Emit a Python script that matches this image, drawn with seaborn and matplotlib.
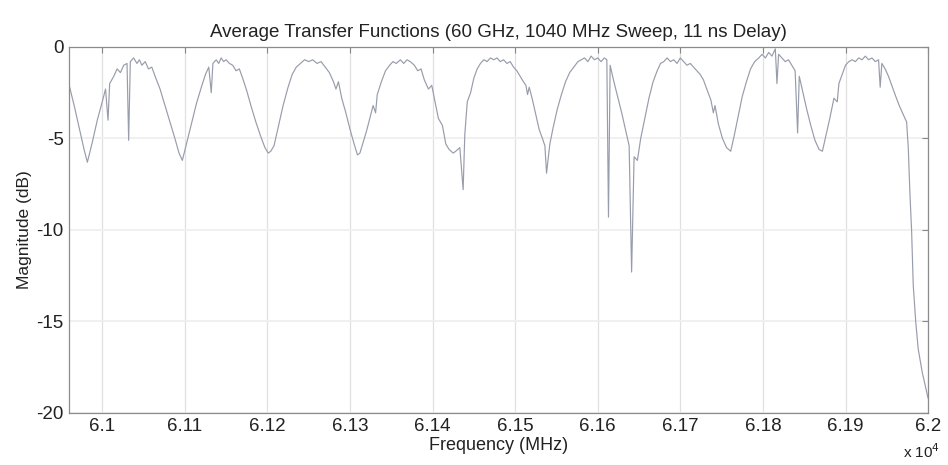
import numpy as np
import pandas as pd
import matplotlib
matplotlib.use("Agg")
import matplotlib.pyplot as plt
import seaborn as sns

# -----------------------------
# Data (frequency in MHz, magnitude in dB)
# -----------------------------
freq_mhz = [
    60960, 60966, 60972, 60978, 60982,
    # lobe 1
    60988, 60994, 61000, 61004, 61007, 61009, 61014, 61018, 61022, 61026, 61030, 61032,
    61034, 61038, 61042, 61045, 61048, 61052, 61056, 61060, 61064, 61070, 61076, 61082,
    61088, 61093, 61097,
    # lobe 2
    61102, 61108, 61114, 61120, 61125, 61129, 61132, 61134, 61138, 61141, 61144, 61147,
    61150, 61154, 61158, 61162, 61166, 61170, 61175, 61180, 61186, 61192, 61197, 61201, 61204,
    # lobe 3
    61208, 61213, 61219, 61225, 61230, 61235, 61240, 61245, 61250, 61255, 61260, 61265,
    61270, 61275, 61280, 61283, 61286, 61290, 61295, 61300, 61305, 61309, 61312,
    # lobe 4
    61316, 61320, 61324, 61328, 61331, 61333, 61338, 61343, 61348, 61352, 61356, 61361,
    61365, 61369, 61373, 61378, 61382, 61386, 61390, 61395, 61399, 61403, 61407, 61412,
    61416, 61420, 61425, 61428, 61433, 61437,
    # lobe 5
    61439, 61442, 61446, 61450, 61454, 61458, 61462, 61466, 61470, 61474, 61478, 61482,
    61486, 61490, 61494, 61498, 61502, 61506, 61510, 61513, 61515, 61517, 61521, 61525,
    61529, 61533, 61536, 61538,
    # lobe 6
    61542, 61546, 61551, 61556, 61561, 61566, 61571, 61576, 61580, 61584, 61588, 61592,
    61596, 61600, 61604, 61608, 61611, 61613, 61615, 61619, 61624, 61629, 61634, 61638,
    61641, 61644, 61648,
    # lobe 7
    61652, 61657, 61662, 61667, 61672, 61676, 61680, 61684, 61688, 61692, 61696, 61700,
    61704, 61708, 61712, 61716, 61720, 61724, 61728, 61732, 61737, 61740, 61742, 61746,
    61751, 61756, 61761,
    # lobe 8
    61765, 61770, 61775, 61780, 61785, 61790, 61795, 61799, 61803, 61807, 61811, 61815,
    61817, 61819, 61823, 61827, 61831, 61835, 61839, 61842, 61844, 61848, 61853, 61858,
    61863, 61868, 61872,
    # lobe 9 and roll-off
    61876, 61881, 61886, 61890, 61892, 61896, 61900, 61904, 61908, 61912, 61916, 61920,
    61924, 61928, 61932, 61936, 61940, 61942, 61944, 61948, 61952, 61956, 61960, 61965,
    61970, 61974, 61976, 61978, 61980, 61982, 61985, 61988, 61993, 61997, 62000,
]

mag_db = [
    -2.1, -3.2, -4.4, -5.6, -6.3,
    # lobe 1
    -5.2, -4.0, -3.0, -2.3, -4.0, -2.0, -1.6, -1.2, -1.4, -1.0, -0.9, -5.1,
    -0.8, -0.6, -0.9, -0.7, -1.0, -0.8, -1.2, -1.1, -1.6, -2.3, -3.2, -4.1,
    -5.0, -5.8, -6.2,
    # lobe 2
    -5.3, -4.2, -3.1, -2.2, -1.5, -1.1, -2.5, -0.9, -0.7, -0.9, -0.6, -0.8,
    -0.7, -0.9, -1.0, -1.3, -1.2, -1.7, -2.4, -3.2, -4.1, -4.9, -5.5, -5.8, -5.7,
    # lobe 3
    -5.4, -4.4, -3.2, -2.2, -1.5, -1.1, -0.9, -0.7, -0.8, -0.7, -0.9, -0.8,
    -1.1, -1.4, -1.9, -2.3, -1.9, -2.8, -3.6, -4.5, -5.3, -5.9, -5.8,
    # lobe 4
    -5.2, -4.6, -3.9, -3.2, -3.6, -2.6, -1.9, -1.3, -1.0, -0.8, -0.9, -0.7,
    -0.9, -0.7, -0.8, -1.0, -1.3, -1.2, -1.8, -2.3, -2.1, -3.0, -3.9, -4.3,
    -5.3, -5.6, -5.8, -5.7, -5.5, -7.8,
    # lobe 5
    -4.8, -3.0, -2.5, -1.7, -1.2, -0.9, -0.7, -0.8, -0.6, -0.7, -0.6, -0.8,
    -0.7, -0.9, -0.8, -1.1, -1.3, -1.6, -1.9, -2.1, -2.6, -2.2, -2.9, -3.7,
    -4.5, -5.0, -5.4, -6.9,
    # lobe 6
    -5.3, -4.4, -3.4, -2.6, -1.9, -1.4, -1.1, -0.8, -0.7, -0.6, -0.8, -0.5,
    -0.7, -0.6, -0.8, -0.6, -0.7, -9.3, -1.0, -1.8, -2.7, -3.6, -4.6, -5.4,
    -12.3, -6.0, -6.2,
    # lobe 7
    -5.0, -3.9, -2.8, -1.9, -1.3, -0.9, -0.8, -0.6, -0.8, -0.7, -0.9, -0.6,
    -0.8, -1.0, -0.9, -1.1, -1.3, -1.5, -1.8, -2.3, -2.9, -3.6, -3.2, -4.2,
    -5.0, -5.5, -5.7,
    # lobe 8
    -4.9, -3.8, -2.7, -1.9, -1.2, -0.8, -0.6, -0.4, -0.6, -0.3, -0.5, -0.1,
    -2.0, -0.4, -0.6, -0.8, -0.7, -1.0, -1.3, -4.7, -1.6, -2.4, -3.4, -4.3,
    -5.1, -5.6, -5.7,
    # lobe 9 and roll-off
    -4.9, -3.9, -2.8, -3.0, -2.0, -1.5, -1.0, -0.8, -0.7, -0.8, -0.6, -0.7,
    -0.5, -0.7, -0.6, -0.8, -0.7, -2.2, -0.9, -1.2, -1.6, -2.1, -2.6, -3.2,
    -3.7, -4.1, -5.5, -8.0, -10.0, -13.0, -15.0, -16.5, -17.8, -18.6, -19.2,
]

x_ticks = [61000, 61100, 61200, 61300, 61400, 61500, 61600, 61700, 61800, 61900, 62000]
x_tick_labels = ["6.1", "6.11", "6.12", "6.13", "6.14", "6.15", "6.16", "6.17", "6.18", "6.19", "6.2"]
y_ticks = [-20, -15, -10, -5, 0]
y_tick_labels = ["-20", "-15", "-10", "-5", "0"]

df = pd.DataFrame({"Frequency": freq_mhz, "Magnitude": mag_db})

# -----------------------------
# Plot
# -----------------------------
sns.set_style("white")
plt.rcParams["font.family"] = ["Liberation Sans", "DejaVu Sans"]

fig = plt.figure(figsize=(9.48, 4.65), dpi=100)
ax = fig.add_axes([0.073, 0.112, 0.906, 0.787])

sns.lineplot(data=df, x="Frequency", y="Magnitude", ax=ax, color="#989cab",
             linewidth=0.85, estimator=None, sort=False)

ax.set_xlim(60960, 62000)
ax.set_ylim(-20, 0)
ax.set_xticks(x_ticks)
ax.set_xticklabels(x_tick_labels)
ax.set_yticks(y_ticks)
ax.set_yticklabels(y_tick_labels)

# faint MATLAB-style grid
ax.grid(True, axis="x", color="#e0e0e0", linewidth=0.9)
ax.grid(True, axis="y", color="#efefef", linewidth=1.3)

ax.tick_params(direction="in", top=True, right=True, length=4, color="#888888",
               labelsize=13.5, labelcolor="#222222", pad=4)
for s in ax.spines.values():
    s.set_color("#8c8c8c")
    s.set_linewidth(0.9)

ax.set_title("Average Transfer Functions (60 GHz, 1040 MHz Sweep, 11 ns Delay)",
             fontsize=13.5, color="#222222", pad=7)
ax.set_xlabel("Frequency (MHz)", fontsize=13, color="#222222", labelpad=1)
ax.set_ylabel("Magnitude (dB)", fontsize=12.5, color="#222222", labelpad=3)
fig.text(0.972, 0.016, r"x 10$^4$", fontsize=11, color="#222222", ha="center")

fig.savefig("out.png", dpi=100)
